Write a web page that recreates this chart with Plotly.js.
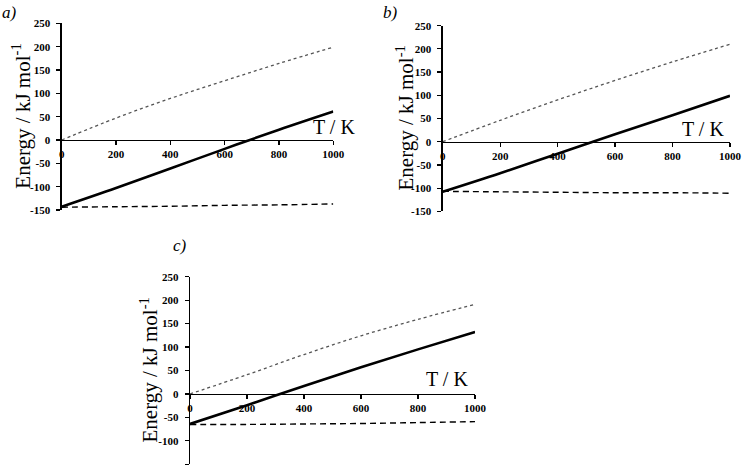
<!DOCTYPE html>
<html>
<head>
<meta charset="utf-8">
<script src="https://cdn.plot.ly/plotly-3.0.1.min.js"></script>
<style>html,body{margin:0;padding:0;background:#fff;}#chart{width:742px;height:468px;}</style>
</head>
<body>
<div id="chart"></div>
<script>
// Temperature grid (K)
const T = [0, 200, 400, 600, 800, 1000];

// Panel a
const a_dotted = [0, 47, 89, 127, 164, 199];
const a_solid  = [-143, -103, -61, -19, 22, 61];
const a_dashed = [-144, -143, -142, -140, -139, -137];

// Panel b
const b_dotted = [0, 46, 90, 132, 172, 210];
const b_solid  = [-108, -68, -26, 16, 57, 99];
const b_dashed = [-107, -108, -109, -110, -110, -111];

// Panel c
const c_dotted = [0, 41, 84, 124, 159, 191];
const c_solid  = [-64, -24, 17, 57, 95, 132];
const c_dashed = [-65, -65, -64, -63, -61, -59];

const xTicks = [0, 200, 400, 600, 800, 1000];
const yTicks = [-150, -100, -50, 0, 50, 100, 150, 200, 250];
const panelLabels = ['a)', 'b)', 'c)'];
const yTitle = 'Energy / kJ mol<sup>-1</sup>';
const xLabel = 'T / K';

const SERIF = '"Liberation Serif", "Times New Roman", serif';
const panels = [
  {dot: a_dotted, sol: a_solid, das: a_dashed, xd: [0.0832, 0.4492], yd: [0.5513, 0.9502], tkShift: 24, tkY: 0, ttlX: 22},
  {dot: b_dotted, sol: b_solid, das: b_dashed, xd: [0.5966, 0.9838], yd: [0.5485, 0.9451], tkShift: -4, tkY: 0, ttlX: 405},
  {dot: c_dotted, sol: c_solid, das: c_dashed, xd: [0.2561, 0.6402], yd: [0.0079, 0.4088], tkShift: -5, tkY: 2, ttlX: 149}
];
const yRange = [-150, 250];
const xRange = [0, 1000];
const W = 742;

const data = [];
const layout = {
  width: W, height: 468,
  margin: {l: 0, r: 0, t: 0, b: 0},
  paper_bgcolor: '#fff', plot_bgcolor: 'rgba(0,0,0,0)',
  showlegend: false,
  annotations: []
};

panels.forEach((p, i) => {
  const n = i === 0 ? '' : String(i + 1);
  const xa = 'x' + n, ya = 'y' + n;
  data.push({x: T, y: p.dot, xaxis: xa, yaxis: ya, mode: 'lines', type: 'scatter',
             line: {color: '#555', width: 1.3, dash: 'dot', shape: 'spline', smoothing: 1}});
  data.push({x: T, y: p.das, xaxis: xa, yaxis: ya, mode: 'lines', type: 'scatter',
             line: {color: '#000', width: 1.4, dash: '6px,4px', shape: 'spline', smoothing: 1}});
  data.push({x: T, y: p.sol, xaxis: xa, yaxis: ya, mode: 'lines', type: 'scatter',
             line: {color: '#000', width: 2.6, shape: 'spline', smoothing: 1}});
  const zeroPos = p.yd[0] + (0 - yRange[0]) / (yRange[1] - yRange[0]) * (p.yd[1] - p.yd[0]);
  layout['xaxis' + n] = {
    domain: p.xd, range: xRange, anchor: 'free', position: zeroPos,
    tickmode: 'array', tickvals: xTicks, ticktext: xTicks.map(String),
    showline: true, linecolor: '#000', linewidth: 1.3,
    ticks: 'outside', ticklen: 4, tickcolor: '#000', tickwidth: 1.2,
    showgrid: false, zeroline: false,
    tickfont: {family: SERIF, size: 11, color: '#000', weight: 'bold'},
    fixedrange: true
  };
  layout['yaxis' + n] = {
    domain: p.yd, range: yRange, anchor: xa,
    tickmode: 'array', tickvals: yTicks, ticktext: yTicks.map(String),
    showline: true, linecolor: '#000', linewidth: 1.3,
    ticks: 'outside', ticklen: 4, tickcolor: '#000', tickwidth: 1.2,
    ticklabelstandoff: 4,
    showgrid: false, zeroline: false,
    tickfont: {family: SERIF, size: 11, color: '#000', weight: 'bold'},
    fixedrange: true
  };
  // y-axis title (rotated)
  layout.annotations.push({
    xref: 'paper', yref: 'paper', x: p.ttlX / W, y: (p.yd[0] + p.yd[1]) / 2,
    xanchor: 'center', yanchor: 'middle', textangle: -90, showarrow: false,
    text: yTitle, font: {family: SERIF, size: 21, color: '#000'}
  });
  // "T / K" label just above the zero line at the right
  layout.annotations.push({
    xref: xa + ' domain', yref: 'paper', x: 1.0, y: zeroPos,
    xanchor: 'right', yanchor: 'bottom', showarrow: false,
    xshift: p.tkShift, yshift: p.tkY,
    text: xLabel, font: {family: SERIF, size: 20, color: '#000'}
  });
});

// Panel letters
const letterPos = [[0.0, 0.998], [0.513, 0.998], [0.231, 0.5]];
panelLabels.forEach((t, i) => {
  layout.annotations.push({
    xref: 'paper', yref: 'paper', x: letterPos[i][0], y: letterPos[i][1],
    xanchor: 'left', yanchor: 'top', showarrow: false,
    text: '<i>' + t + '</i>', font: {family: SERIF, size: 17, color: '#000'}
  });
});

Plotly.newPlot('chart', data, layout, {displayModeBar: false, staticPlot: true});
</script>
</body>
</html>
